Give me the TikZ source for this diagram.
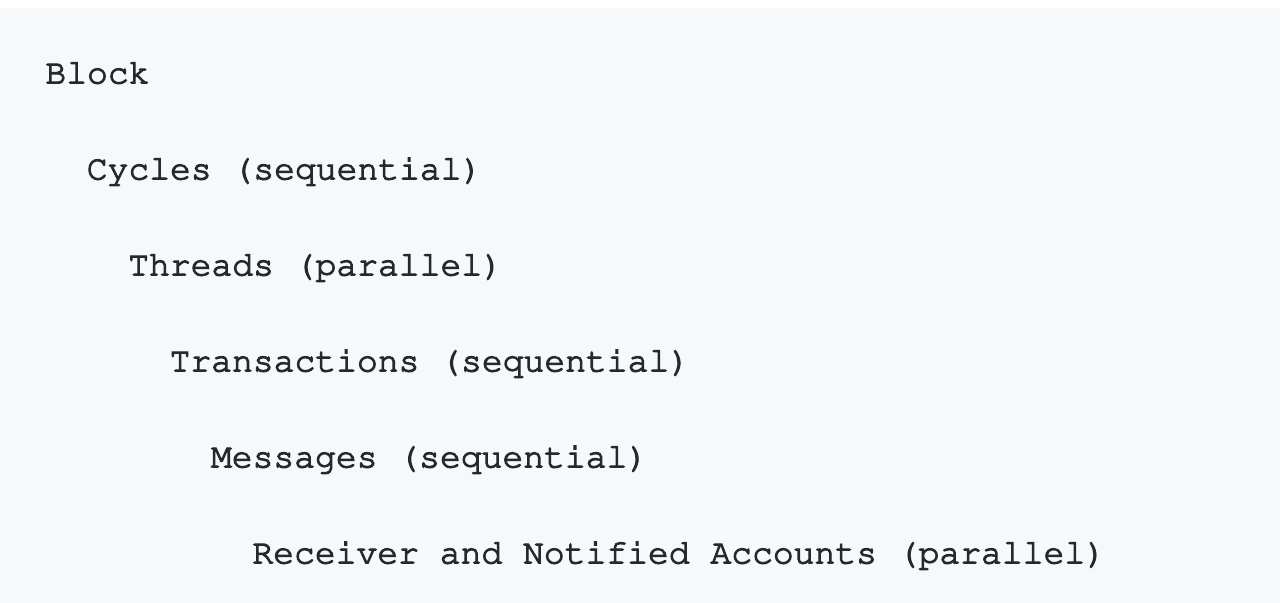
\documentclass[tikz,border=0pt]{standalone}
\usepackage[T1]{fontenc}
\usepackage{courier}
\usepackage{tikz}
\usetikzlibrary{positioning}
\definecolor{codebg}{HTML}{F6F8FA}
\definecolor{codefg}{HTML}{24292E}
\newcommand{\codetext}[1]{\special{pdf:literal direct q 2 Tr 0.55 w}#1\special{pdf:literal direct Q}}

\begin{document}
\begin{tikzpicture}[x=1pt,y=1pt,
  line/.style={anchor=base west,inner sep=0pt,text=codefg,
    font=\ttfamily\fontsize{17.35}{20}\selectfont}]
  % page and code block background
  \fill[white] (0,0) rectangle (640,-301.5);
  \fill[codebg] (0,-4) rectangle (640,-301.5);
  \useasboundingbox (0,0) rectangle (640,-301.5);
  \node[line] (block) at (22.5,-41.7) {\codetext{Block}};
  \node[line] (cycles) at (43.2,-89.7) {\codetext{Cycles (sequential)}};
  \node[line] (threads) at (63.9,-137.7) {\codetext{Threads (parallel)}};
  \node[line] (trans) at (84.6,-185.7) {\codetext{Transactions (sequential)}};
  \node[line] (msgs) at (105.3,-233.7) {\codetext{Messages (sequential)}};
  \node[line] (accts) at (126,-281.7) {\codetext{Receiver and Notified Accounts (parallel)}};
\end{tikzpicture}
\end{document}
